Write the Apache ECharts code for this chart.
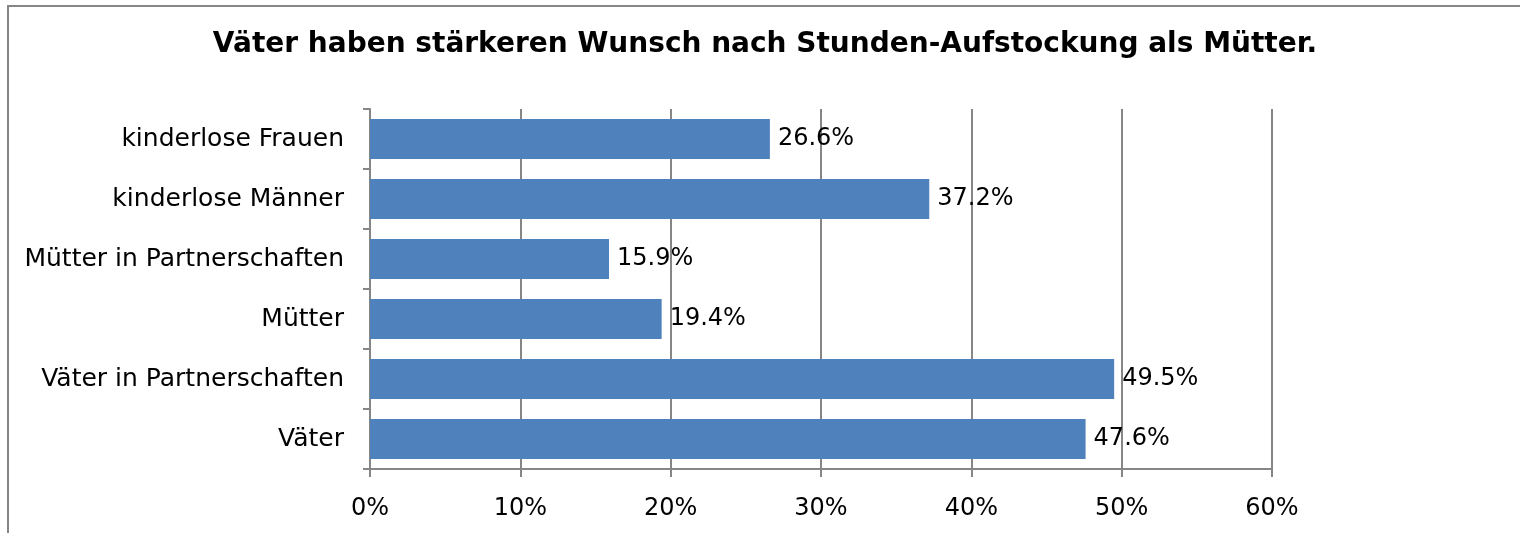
<!DOCTYPE html>
<html>
<head>
<meta charset="utf-8">
<script src="https://cdn.jsdelivr.net/npm/echarts@6/dist/echarts.min.js"></script>
<style>
  html, body { margin: 0; padding: 0; background: #fff; }
  #chart { width: 1520px; height: 533px; }
</style>
</head>
<body>
<div id="chart"></div>
<script>
// Kategorien von oben nach unten
const categories = ['kinderlose Frauen', 'kinderlose Männer', 'Mütter in Partnerschaften', 'Mütter', 'Väter in Partnerschaften', 'Väter']
// Anteil mit Wunsch nach Stunden-Aufstockung (%)
const values = [26.6, 37.2, 15.9, 19.4, 49.5, 47.6]
const xTicks = [0, 10, 20, 30, 40, 50, 60]

const chart = echarts.init(document.getElementById('chart'))
const font = 'DejaVu Sans'

const option = {
  animation: false,
  textStyle: { fontFamily: font },
  title: {
    text: 'Väter haben stärkeren Wunsch nach Stunden-Aufstockung als Mütter.',
    left: 760,
    textAlign: 'center',
    top: 26,
    textStyle: { fontFamily: font, fontSize: 28, fontWeight: 'bold', color: '#000' }
  },
  // Rahmen oben/links wie im Original
  graphic: [{
    type: 'polyline',
    shape: { points: [[8, 540], [8, 6], [1530, 6]] },
    style: { stroke: '#868686', lineWidth: 2, fill: null }
  }],
  grid: { left: 370, right: 248, top: 109, bottom: 64 },
  xAxis: {
    type: 'value',
    min: xTicks[0],
    max: xTicks[xTicks.length - 1],
    interval: 10,
    axisLine: { show: true, lineStyle: { color: '#868686', width: 2 } },
    axisTick: { show: true, length: 8, lineStyle: { color: '#868686', width: 2 } },
    splitLine: { show: true, lineStyle: { color: '#868686', width: 2 } },
    axisLabel: { formatter: '{value}%', fontSize: 24, color: '#000', margin: 28, fontFamily: font }
  },
  yAxis: {
    type: 'category',
    data: categories,
    inverse: true,
    axisLine: { show: true, lineStyle: { color: '#868686', width: 2 } },
    axisTick: { show: true, length: 7, lineStyle: { color: '#868686', width: 2 } },
    axisLabel: { fontSize: 25, color: '#000', margin: 26, fontFamily: font }
  },
  series: [{
    type: 'bar',
    data: values,
    barWidth: 40,
    itemStyle: { color: '#4F81BD' },
    label: {
      show: true,
      position: 'right',
      distance: 8,
      formatter: p => p.value.toFixed(1) + '%',
      fontSize: 24,
      color: '#000',
      fontFamily: font
    }
  }]
}
chart.setOption(option)
</script>
</body>
</html>
